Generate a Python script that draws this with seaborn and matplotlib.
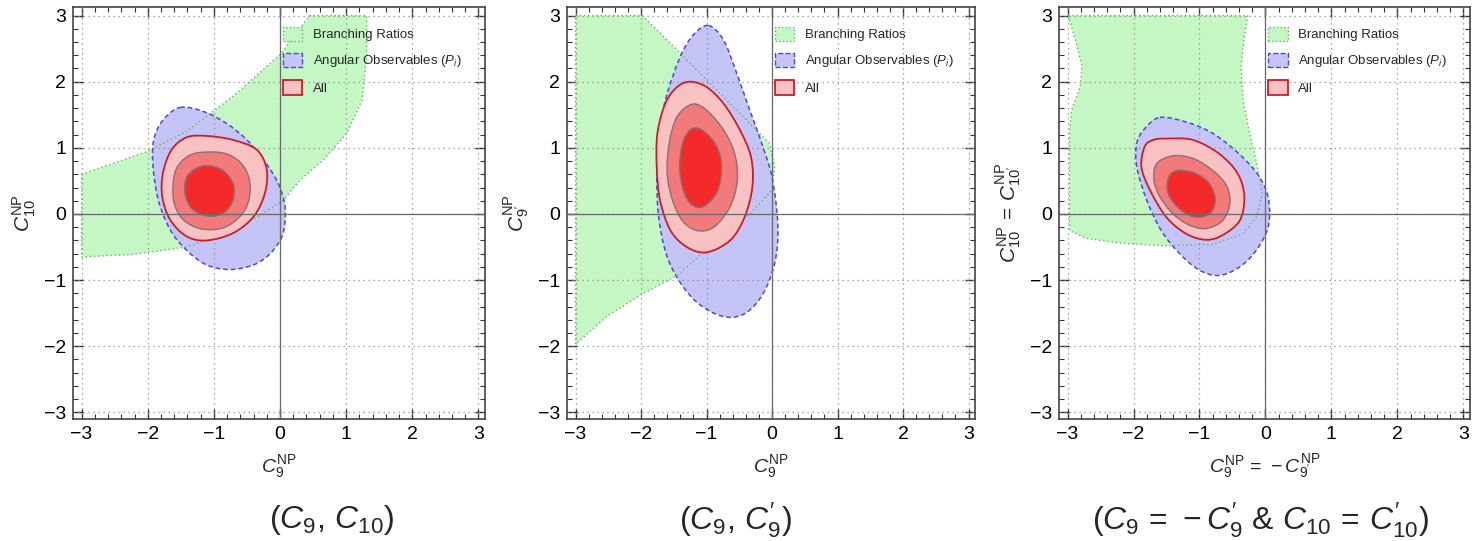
import numpy as np
import matplotlib
matplotlib.use("Agg")
import matplotlib.pyplot as plt
import seaborn as sns
from matplotlib.path import Path
from matplotlib.patches import PathPatch, Patch
from matplotlib.ticker import MultipleLocator

# ---- data: region outlines (x, y in Wilson coefficient units) ----
# panel 1: (C9, C10)
br1_x = [-3.0, -2.02, -1.41, -0.71, 0.0, 0.45, 1.31, 1.31, 1.24, 1.01, 0.66, 0.30, 0.05, -0.30, -0.71, -1.41, -2.22, -3.0]
br1_y = [0.60, 0.94, 1.25, 1.78, 2.41, 3.0, 3.0, 2.38, 1.72, 1.22, 0.82, 0.51, 0.21, -0.02, -0.24, -0.50, -0.61, -0.65]
ang1_x = [-1.51, -1.16, -0.81, -0.50, -0.25, -0.05, 0.06, 0.08, 0.03, -0.15, -0.40, -0.76, -1.11, -1.41, -1.66, -1.84, -1.92, -1.91, -1.77]
ang1_y = [1.61, 1.55, 1.37, 1.12, 0.82, 0.51, 0.21, -0.04, -0.34, -0.60, -0.77, -0.84, -0.77, -0.55, -0.24, 0.21, 0.72, 1.12, 1.42]
all1_x = [[-1.41, -1.11, -0.71, -0.35, -0.20, -0.23, -0.40, -0.71, -1.11, -1.41, -1.66, -1.78, -1.77, -1.64],
          [-1.21, -0.81, -0.55, -0.45, -0.53, -0.81, -1.16, -1.46, -1.61, -1.59, -1.44],
          [-1.16, -0.88, -0.71, -0.71, -0.86, -1.11, -1.34, -1.44, -1.39]]
all1_y = [[1.16, 1.18, 1.12, 0.97, 0.67, 0.31, -0.04, -0.29, -0.40, -0.34, -0.09, 0.26, 0.62, 0.97],
          [0.93, 0.91, 0.72, 0.41, 0.06, -0.19, -0.23, -0.09, 0.21, 0.62, 0.84],
          [0.73, 0.67, 0.46, 0.21, 0.01, -0.03, 0.09, 0.34, 0.59]]

# panel 2: (C9, C9')
br2_x = [-3.0, -1.98, -1.45, -0.84, -0.29, -0.04, 0.04, 0.0, -0.34, -0.84, -1.45, -1.98, -2.51, -3.0]
br2_y = [3.0, 3.0, 2.48, 1.87, 1.32, 1.07, 0.71, 0.36, 0.0, -0.40, -0.93, -1.21, -1.54, -1.97]
ang2_x = [-0.97, -0.74, -0.54, -0.34, -0.14, 0.01, 0.09, 0.04, -0.14, -0.39, -0.69, -1.05, -1.35, -1.60, -1.73, -1.76, -1.73, -1.60, -1.40, -1.20]
ang2_y = [2.85, 2.63, 2.13, 1.57, 1.02, 0.51, -0.20, -0.75, -1.21, -1.49, -1.56, -1.41, -1.11, -0.65, -0.05, 0.61, 1.22, 1.82, 2.38, 2.71]
all2_x = [[-1.25, -1.0, -0.74, -0.49, -0.32, -0.30, -0.42, -0.64, -1.0, -1.30, -1.55, -1.71, -1.76, -1.75, -1.63, -1.45],
          [-1.22, -1.0, -0.74, -0.57, -0.53, -0.64, -0.89, -1.15, -1.37, -1.52, -1.60, -1.57, -1.45],
          [-1.20, -1.0, -0.82, -0.77, -0.84, -1.05, -1.25, -1.37, -1.41, -1.35]]
all2_y = [[2.0, 1.92, 1.67, 1.27, 0.86, 0.41, -0.05, -0.40, -0.58, -0.50, -0.25, 0.21, 0.71, 1.22, 1.67, 1.92],
          [1.66, 1.57, 1.27, 0.91, 0.51, 0.11, -0.20, -0.25, -0.10, 0.21, 0.61, 1.07, 1.47],
          [1.30, 1.22, 0.97, 0.66, 0.33, 0.11, 0.16, 0.41, 0.76, 1.12]]

# panel 3: (C9 = -C9', C10 = C10')
br3_x = [-2.99, -2.88, -2.78, -2.81, -2.94, -2.97, -2.97, -2.71, -2.21, -1.55, -0.80, -0.34, -0.14, -0.05, -0.12, -0.24, -0.34, -0.37, -0.32, -0.27]
br3_y = [3.0, 2.63, 2.23, 1.92, 1.57, 1.22, -0.25, -0.37, -0.44, -0.48, -0.46, -0.30, -0.05, 0.31, 0.71, 1.22, 1.72, 2.23, 2.68, 3.0]
ang3_x = [-1.60, -1.20, -0.80, -0.40, -0.09, 0.05, 0.04, -0.14, -0.39, -0.70, -1.0, -1.30, -1.58, -1.80, -1.95, -1.95, -1.83]
ang3_y = [1.46, 1.39, 1.22, 0.91, 0.56, 0.21, -0.20, -0.55, -0.80, -0.93, -0.85, -0.60, -0.25, 0.21, 0.71, 1.07, 1.29]
all3_x = [[-1.50, -1.10, -0.70, -0.42, -0.32, -0.39, -0.65, -0.90, -1.20, -1.50, -1.75, -1.88, -1.83, -1.70],
          [-1.40, -1.10, -0.80, -0.59, -0.54, -0.65, -0.90, -1.15, -1.40, -1.60, -1.69, -1.65],
          [-1.30, -1.05, -0.85, -0.76, -0.82, -1.0, -1.20, -1.40, -1.49, -1.45]]
all3_y = [[1.14, 1.12, 0.91, 0.61, 0.26, -0.10, -0.32, -0.39, -0.30, -0.05, 0.36, 0.71, 1.02, 1.12],
          [0.88, 0.84, 0.66, 0.43, 0.16, -0.10, -0.22, -0.17, 0.0, 0.26, 0.51, 0.76],
          [0.66, 0.61, 0.46, 0.23, 0.03, -0.05, 0.0, 0.18, 0.38, 0.59]]

xlabels = [r'$C_9^{\mathrm{NP}}$', r'$C_9^{\mathrm{NP}}$',
           r'$C_9^{\mathrm{NP}}\,=\,-C_{9^{\prime}}^{\mathrm{NP}}$']
ylabels = [r'$C_{10}^{\mathrm{NP}}$', r'$C_{9^{\prime}}^{\mathrm{NP}}$',
           r'$C_{10}^{\mathrm{NP}}\,=\,C_{10^{\prime}}^{\mathrm{NP}}$']
captions = [r"$(C_9,\,C_{10})$", r"$(C_9,\,C_9^{\prime})$",
            r"$(C_9\,=\,-C_9^{\prime}$ & $C_{10}\,=\,C_{10}^{\prime})$"]
legend_labels = ['Branching Ratios', r'Angular Observables ($P_i$)', 'All']

# ---- style ----
sns.set_theme(style="ticks")
plt.rcParams['font.family'] = ['Liberation Sans', 'DejaVu Sans']
plt.rcParams['mathtext.fontset'] = 'custom'
plt.rcParams['mathtext.rm'] = 'Liberation Sans'
plt.rcParams['mathtext.it'] = 'Liberation Sans:italic'
plt.rcParams['mathtext.bf'] = 'Liberation Sans:bold'

GREEN, GREEN_EDGE = '#c4f7c4', '#5fb85f'
BLUE, BLUE_EDGE = '#c4c4f7', '#4a4ad8'
PINK, RED_MID, RED_IN = '#f8c2c2', '#f27a7a', '#f42a2a'
RED_EDGE, GREY_EDGE = '#c81e2a', '#8a7070'


def smooth_path(xs, ys):
    # closed curve through the read points, drawn with matplotlib bezier segments
    P = np.column_stack([xs, ys])
    n = len(P)
    verts, codes = [P[0]], [Path.MOVETO]
    for i in range(n):
        p0, p1, p2, p3 = P[i - 1], P[i], P[(i + 1) % n], P[(i + 2) % n]
        verts += [p1 + (p2 - p0) / 6.0, p2 - (p3 - p1) / 6.0, p2]
        codes += [Path.CURVE4] * 3
    verts.append(P[0])
    codes.append(Path.CLOSEPOLY)
    return Path(verts, codes)


def poly_path(xs, ys):
    P = np.column_stack([xs, ys])
    verts = list(P) + [P[0]]
    codes = [Path.MOVETO] + [Path.LINETO] * (len(P) - 1) + [Path.CLOSEPOLY]
    return Path(verts, codes)


panels = [
    (br1_x, br1_y, ang1_x, ang1_y, all1_x, all1_y),
    (br2_x, br2_y, ang2_x, ang2_y, all2_x, all2_y),
    (br3_x, br3_y, ang3_x, ang3_y, all3_x, all3_y),
]

fig = plt.figure(figsize=(14.72, 5.41), dpi=100)
positions = [[0.0496, 0.2255, 0.2799, 0.7616],
             [0.3852, 0.2255, 0.2772, 0.7616],
             [0.7194, 0.2255, 0.2792, 0.7616]]
caption_x = [332, 735, 1260]

for k, (bx, by, ax_, ay_, rx, ry) in enumerate(panels):
    ax = fig.add_axes(positions[k])
    ax.set_xlim(-3.13, 3.1)
    ax.set_ylim(-3.1, 3.13)

    ax.add_patch(PathPatch(poly_path(bx, by), facecolor=GREEN, edgecolor='none', zorder=1))
    ax.add_patch(PathPatch(smooth_path(ax_, ay_), facecolor=BLUE, edgecolor='none', zorder=2))

    # dotted grid shows through the green / blue regions
    for v in range(-3, 4):
        ax.axvline(v, color='#8c8c8c', lw=0.9, ls=(0, (1, 3)), zorder=2.5)
        ax.axhline(v, color='#8c8c8c', lw=0.9, ls=(0, (1, 3)), zorder=2.5)

    ax.add_patch(PathPatch(poly_path(bx, by), facecolor='none', edgecolor=GREEN_EDGE,
                           lw=1.0, ls=(0, (1, 2)), zorder=3))
    ax.add_patch(PathPatch(smooth_path(ax_, ay_), facecolor='none', edgecolor=BLUE_EDGE,
                           lw=1.1, ls=(0, (3, 2)), zorder=4))

    fills = [PINK, RED_MID, RED_IN]
    edges = [RED_EDGE, GREY_EDGE, GREY_EDGE]
    for j in range(3):
        ax.add_patch(PathPatch(smooth_path(rx[j], ry[j]), facecolor=fills[j],
                               edgecolor=edges[j], lw=1.3 if j == 0 else 1.0, zorder=5 + j))

    ax.axhline(0, color='#6a6a6a', lw=0.9, zorder=9)
    ax.axvline(0, color='#6a6a6a', lw=0.9, zorder=9)

    ax.xaxis.set_major_locator(MultipleLocator(1))
    ax.yaxis.set_major_locator(MultipleLocator(1))
    ax.xaxis.set_minor_locator(MultipleLocator(0.2))
    ax.yaxis.set_minor_locator(MultipleLocator(0.2))
    ax.tick_params(which='both', direction='in', top=True, right=True, colors='#333333',
                   labelcolor='black', labelsize=14)
    ax.tick_params(which='major', length=7, width=1.0, pad=5)
    ax.tick_params(which='minor', length=3.5, width=0.8)
    for s in ax.spines.values():
        s.set_color('#444444')
        s.set_linewidth(1.2)

    ax.set_xlabel(xlabels[k], fontsize=14, labelpad=7)
    ax.set_ylabel(ylabels[k], fontsize=15, labelpad=4)

    handles = [Patch(facecolor=GREEN, edgecolor=GREEN_EDGE, ls=':', lw=1.0),
               Patch(facecolor=BLUE, edgecolor=BLUE_EDGE, ls='--', lw=1.0),
               Patch(facecolor=PINK, edgecolor=RED_EDGE, lw=1.3)]
    leg = ax.legend(handles, legend_labels, loc='upper left', bbox_to_anchor=(0.497, 0.965),
                    frameon=False, fontsize=9.5, handlelength=1.45, handleheight=1.3,
                    handletextpad=0.8, labelspacing=0.85, borderaxespad=0)
    leg.set_zorder(20)

    fig.text(caption_x[k] / 1472, (541 - 520) / 541, captions[k], fontsize=23,
             ha='center', va='center')

fig.savefig('out.png', dpi=100)
